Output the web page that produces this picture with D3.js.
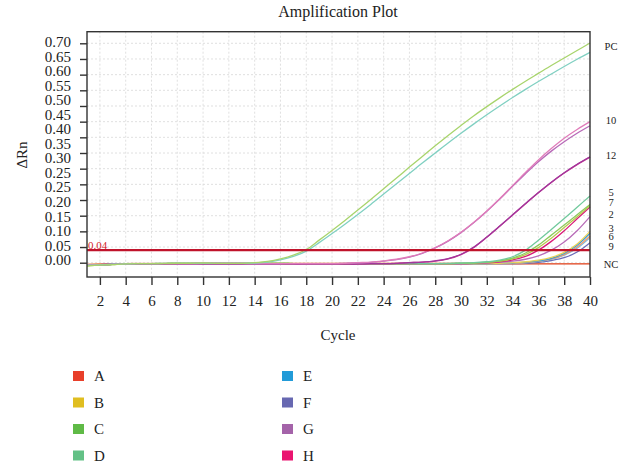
<!DOCTYPE html>
<html>
<head>
<meta charset="utf-8">
<script src="https://cdn.jsdelivr.net/npm/d3@7"></script>
<style>
  body { margin: 0; background: #fff; }
  text { font-family: "Liberation Serif", "Times New Roman", serif; fill: #222; }
</style>
</head>
<body>
<div class="chart"></div>
<script>
// cycles 1..40
var cycles = d3.range(1, 41);

// ΔRn per cycle
var pcC = [-0.010,-0.008,-0.006,-0.004,-0.003,-0.003,-0.002,-0.002,-0.002,-0.001,
           -0.002,-0.002,-0.002,0.000,0.004,0.012,0.024,0.042,0.072,0.103,
           0.135,0.168,0.202,0.236,0.270,0.305,0.339,0.373,0.406,0.438,
           0.469,0.498,0.526,0.553,0.579,0.604,0.629,0.653,0.677,0.701];
var pcD = [-0.008,-0.007,-0.005,-0.004,-0.003,-0.003,-0.002,-0.002,-0.002,-0.002,
           -0.002,-0.002,-0.002,-0.001,0.002,0.009,0.020,0.037,0.064,0.093,
           0.123,0.154,0.186,0.219,0.252,0.285,0.318,0.350,0.382,0.413,
           0.443,0.472,0.500,0.527,0.553,0.578,0.602,0.626,0.649,0.671];
var s10a = [-0.007,-0.006,-0.005,-0.004,-0.003,-0.003,-0.003,-0.003,-0.003,-0.002,
            -0.002,-0.002,-0.002,-0.003,-0.003,-0.003,-0.003,-0.003,-0.003,-0.003,
            -0.002,0.000,0.002,0.006,0.011,0.019,0.031,0.048,0.070,0.097,
            0.129,0.165,0.204,0.246,0.288,0.328,0.364,0.397,0.425,0.450];
var s10b = [-0.007,-0.006,-0.005,-0.004,-0.003,-0.003,-0.003,-0.003,-0.003,-0.002,
            -0.002,-0.002,-0.002,-0.003,-0.003,-0.003,-0.003,-0.003,-0.003,-0.003,
            -0.002,-0.001,0.001,0.005,0.010,0.018,0.030,0.047,0.069,0.096,
            0.128,0.164,0.203,0.244,0.284,0.322,0.356,0.386,0.413,0.437];
var s12a = [-0.007,-0.006,-0.005,-0.004,-0.003,-0.003,-0.003,-0.003,-0.003,-0.003,
            -0.003,-0.003,-0.003,-0.003,-0.003,-0.003,-0.004,-0.004,-0.004,-0.004,
            -0.004,-0.004,-0.003,-0.003,-0.002,0.000,0.002,0.006,0.013,0.027,
            0.050,0.082,0.117,0.153,0.189,0.224,0.257,0.287,0.314,0.338];
var s12b = [-0.007,-0.006,-0.005,-0.004,-0.003,-0.003,-0.003,-0.003,-0.003,-0.003,
            -0.003,-0.003,-0.003,-0.003,-0.003,-0.003,-0.004,-0.004,-0.004,-0.004,
            -0.004,-0.004,-0.003,-0.003,-0.002,0.000,0.002,0.005,0.012,0.026,
            0.049,0.081,0.116,0.152,0.188,0.223,0.256,0.286,0.313,0.337];
var s5 = [-0.008,-0.007,-0.005,-0.004,-0.003,-0.003,-0.003,-0.002,-0.002,-0.002,
          -0.002,-0.002,-0.002,-0.002,-0.002,-0.002,-0.003,-0.003,-0.003,-0.003,
          -0.003,-0.003,-0.003,-0.003,-0.003,-0.003,-0.003,-0.003,-0.002,-0.001,
          0.000,0.003,0.008,0.019,0.040,0.072,0.106,0.141,0.177,0.213];
var s7a = [-0.009,-0.007,-0.005,-0.004,-0.003,-0.003,-0.003,-0.002,-0.002,-0.002,
           -0.002,-0.002,-0.002,-0.002,-0.002,-0.002,-0.003,-0.003,-0.003,-0.003,
           -0.003,-0.003,-0.003,-0.003,-0.003,-0.003,-0.003,-0.003,-0.003,-0.002,
           -0.001,0.002,0.006,0.015,0.031,0.056,0.088,0.120,0.153,0.186];
var s7b = [-0.010,-0.008,-0.006,-0.004,-0.003,-0.003,-0.003,-0.002,-0.002,-0.002,
           -0.002,-0.002,-0.002,-0.002,-0.002,-0.002,-0.003,-0.003,-0.003,-0.003,
           -0.003,-0.003,-0.003,-0.003,-0.003,-0.003,-0.003,-0.003,-0.003,-0.002,
           -0.001,0.001,0.005,0.012,0.026,0.048,0.078,0.112,0.147,0.182];
var s2a = [-0.007,-0.006,-0.005,-0.004,-0.003,-0.003,-0.003,-0.003,-0.003,-0.003,
           -0.003,-0.003,-0.003,-0.003,-0.003,-0.003,-0.004,-0.004,-0.004,-0.004,
           -0.004,-0.004,-0.003,-0.003,-0.003,-0.003,-0.003,-0.003,-0.003,-0.003,
           -0.002,0.000,0.003,0.009,0.020,0.040,0.068,0.102,0.140,0.178];
var s2b = [-0.007,-0.006,-0.005,-0.004,-0.003,-0.003,-0.003,-0.003,-0.003,-0.003,
           -0.003,-0.003,-0.003,-0.003,-0.003,-0.003,-0.003,-0.003,-0.003,-0.003,
           -0.003,-0.003,-0.003,-0.003,-0.003,-0.003,-0.003,-0.003,-0.003,-0.003,
           -0.002,-0.001,0.002,0.005,0.011,0.022,0.040,0.066,0.102,0.147];
var s3 = [-0.009,-0.007,-0.005,-0.004,-0.003,-0.003,-0.003,-0.002,-0.002,-0.002,
          -0.002,-0.002,-0.002,-0.002,-0.002,-0.002,-0.003,-0.003,-0.003,-0.003,
          -0.003,-0.003,-0.003,-0.003,-0.003,-0.003,-0.003,-0.003,-0.003,-0.003,
          -0.003,-0.003,-0.002,0.000,0.003,0.008,0.017,0.033,0.060,0.100];
var s6a = [-0.007,-0.006,-0.005,-0.004,-0.003,-0.003,-0.003,-0.003,-0.003,-0.003,
           -0.003,-0.003,-0.003,-0.003,-0.003,-0.003,-0.003,-0.003,-0.003,-0.003,
           -0.003,-0.003,-0.003,-0.003,-0.003,-0.003,-0.003,-0.003,-0.003,-0.003,
           -0.003,-0.003,-0.002,-0.001,0.002,0.006,0.014,0.030,0.056,0.094];
var s6b = [-0.006,-0.005,-0.004,-0.003,-0.003,-0.003,-0.003,-0.002,-0.002,-0.002,
           -0.002,-0.002,-0.002,-0.002,-0.002,-0.002,-0.002,-0.002,-0.002,-0.002,
           -0.002,-0.002,-0.002,-0.002,-0.002,-0.002,-0.002,-0.002,-0.002,-0.002,
           -0.002,-0.002,-0.002,-0.002,0.000,0.005,0.012,0.026,0.050,0.085];
var s6c = [-0.007,-0.006,-0.005,-0.004,-0.003,-0.003,-0.003,-0.003,-0.003,-0.003,
           -0.003,-0.003,-0.003,-0.003,-0.003,-0.003,-0.003,-0.003,-0.003,-0.003,
           -0.003,-0.003,-0.003,-0.003,-0.003,-0.003,-0.003,-0.003,-0.003,-0.003,
           -0.003,-0.003,-0.003,-0.002,0.000,0.004,0.011,0.024,0.046,0.080];
var s9 = [-0.007,-0.006,-0.005,-0.004,-0.003,-0.003,-0.003,-0.003,-0.003,-0.003,
          -0.003,-0.003,-0.003,-0.003,-0.003,-0.003,-0.003,-0.003,-0.003,-0.003,
          -0.003,-0.003,-0.003,-0.003,-0.003,-0.003,-0.003,-0.003,-0.003,-0.003,
          -0.003,-0.003,-0.003,-0.003,-0.002,0.001,0.007,0.016,0.034,0.064];
var ncA = [-0.006,-0.005,-0.004,-0.003,-0.003,-0.003,-0.003,-0.003,-0.003,-0.003,
           -0.003,-0.003,-0.003,-0.003,-0.003,-0.003,-0.004,-0.004,-0.004,-0.004,
           -0.004,-0.004,-0.004,-0.004,-0.004,-0.004,-0.004,-0.004,-0.004,-0.004,
           -0.004,-0.004,-0.004,-0.004,-0.004,-0.004,-0.004,-0.004,-0.004,-0.004];
var ncB = [-0.005,-0.004,-0.003,-0.003,-0.002,-0.002,-0.002,-0.002,-0.002,-0.002,
           -0.002,-0.002,-0.002,-0.002,-0.002,-0.002,-0.002,-0.002,-0.002,-0.002,
           -0.002,-0.002,-0.002,-0.002,-0.002,-0.002,-0.002,-0.002,-0.002,-0.002,
           -0.003,-0.003,-0.003,-0.003,-0.003,-0.003,-0.003,-0.003,-0.003,-0.003];

var curveValues = [ncB, ncA, s9, s6c, s6b, s6a, s3, s2b, s2a, s7b, s7a, s5, s12b, s12a, s10b, s10a, pcD, pcC];
var curveColors = ['#eca783','#e4563a','#6b6cb8','#7bb7e0','#ee9c6a','#3a9ad8','#e9d25a','#b86cb8','#d91b78',
                   '#b9c74e','#8ccb5c','#70c99c','#c32f8d','#a2379d','#b86ab8','#e07cba','#80d0c2','#a8d46c'];

var threshold = 0.04;
var thresholdLabel = '0.04';

// end-of-curve tags and the ΔRn they sit at
var tagTexts  = ['PC','10','12','5','7','2','3','6','9','NC'];
var tagValues = [0.689, 0.455, 0.343, 0.224, 0.194, 0.154, 0.110, 0.083, 0.051, -0.004];

var xTickValues = d3.range(2, 41, 2);
var yTickValues = [0, 0.05, 0.10, 0.15, 0.20, 0.25, 0.30, 0.35, 0.40, 0.45, 0.50, 0.55, 0.60, 0.65, 0.70];
// labels as printed (0.25 appears twice)
var yTickLabels = ['0.70','0.65','0.60','0.55','0.50','0.45','0.40','0.35','0.30','0.25','0.25','0.20','0.15','0.10','0.05','0.00'];

var legendKeys   = ['A','B','C','D','E','F','G','H'];
var legendColors = ['#e83f2a','#e0be20','#5fba46','#63c186','#229bd8','#6768b1','#a463a9','#ea1470'];

var width = 627,
	height = 466,
	plotL = 87,
	plotR = 590,
	plotT = 31.7,
	plotB = 277;

var svg = d3.select('.chart').append('svg')
		.attr('width', width)
		.attr('height', height);

var x = d3.scaleLinear().domain([1, 40]).range([plotL, plotR]);
var y = d3.scaleLinear().domain([-0.0456, 0.737]).range([plotB, plotT]);

// grid
var grid = svg.append('g').attr('class', 'grid')
		.attr('stroke', '#d8d8d8')
		.attr('stroke-width', 0.8)
		.attr('stroke-dasharray', '2,2');
grid.selectAll('.vx').data(xTickValues.slice(0, -1)).enter().append('line')
	.attr('x1', x).attr('x2', x)
	.attr('y1', plotT).attr('y2', plotB);
grid.selectAll('.hy').data(yTickValues).enter().append('line')
	.attr('x1', plotL).attr('x2', plotR)
	.attr('y1', y).attr('y2', y);

// curves
var line = d3.line()
		.x(function(d, i) { return x(cycles[i]); })
		.y(function(d) { return y(d); })
		.curve(d3.curveCatmullRom.alpha(0.5));

svg.append('g').attr('class', 'curves')
	.selectAll('path')
	.data(curveValues)
	.enter().append('path')
	.attr('d', line)
	.attr('fill', 'none')
	.attr('stroke', function(d, i) { return curveColors[i]; })
	.attr('stroke-width', 1.3);

// threshold
svg.append('line')
	.attr('x1', plotL).attr('x2', plotR)
	.attr('y1', y(threshold)).attr('y2', y(threshold))
	.attr('stroke', '#c0132b')
	.attr('stroke-width', 2.4);
svg.append('text')
	.attr('x', plotL + 1)
	.attr('y', y(threshold) - 1.5)
	.style('font-size', '11px')
	.style('fill', '#d3222a')
	.text(thresholdLabel);

// frame
svg.append('rect')
	.attr('x', plotL).attr('y', plotT)
	.attr('width', plotR - plotL).attr('height', plotB - plotT)
	.attr('fill', 'none')
	.attr('stroke', '#333')
	.attr('stroke-width', 1.4);

// x axis
var xAxis = svg.append('g')
		.attr('transform', 'translate(0,' + plotB + ')')
		.call(d3.axisBottom(x).tickValues(xTickValues).tickSize(8).tickPadding(10));
xAxis.select('.domain').remove();
xAxis.selectAll('.tick line').attr('stroke', '#333').attr('stroke-width', 1.4);
xAxis.selectAll('.tick text')
	.style('font-family', '"Liberation Serif", serif')
	.style('font-size', '15px')
	.style('fill', '#222');

// y axis ticks
var yAxis = svg.append('g')
		.attr('transform', 'translate(' + plotL + ',0)')
		.call(d3.axisLeft(y).tickValues(yTickValues).tickSize(7).tickFormat(''));
yAxis.select('.domain').remove();
yAxis.selectAll('.tick line').attr('stroke', '#333').attr('stroke-width', 1.4);

// y labels, spread evenly as in the original
var yLabelPos = d3.scaleLinear().domain([0, yTickLabels.length - 1]).range([y(0.70) - 1.6, y(0) - 2.7]);
svg.append('g').selectAll('text')
	.data(yTickLabels)
	.enter().append('text')
	.attr('x', 71)
	.attr('y', function(d, i) { return yLabelPos(i); })
	.attr('dy', '0.35em')
	.attr('text-anchor', 'end')
	.style('font-size', '15px')
	.text(function(d) { return d; });

// curve tags
svg.append('g').selectAll('text')
	.data(tagTexts)
	.enter().append('text')
	.attr('x', 611)
	.attr('y', function(d, i) { return y(tagValues[i]); })
	.attr('dy', '0.35em')
	.attr('text-anchor', 'middle')
	.style('font-size', '10.5px')
	.text(function(d) { return d; });

// titles
svg.append('text')
	.attr('x', 338).attr('y', 17)
	.attr('text-anchor', 'middle')
	.style('font-size', '16px')
	.text('Amplification Plot');
svg.append('text')
	.attr('x', 338).attr('y', 340)
	.attr('text-anchor', 'middle')
	.style('font-size', '15px')
	.text('Cycle');
svg.append('text')
	.attr('transform', 'translate(27,155) rotate(-90)')
	.attr('text-anchor', 'middle')
	.style('font-size', '15px')
	.text('ΔRn');

// legend
var legend = svg.append('g').attr('class', 'legend')
		.selectAll('g')
		.data(legendKeys)
		.enter().append('g')
		.attr('transform', function(d, i) {
			var col = Math.floor(i / 4), row = i % 4;
			return 'translate(' + (73 + col * 209) + ',' + (376 + row * 26.5) + ')';
		});
legend.append('rect')
	.attr('x', 0).attr('y', -5)
	.attr('width', 11).attr('height', 10)
	.attr('fill', function(d, i) { return legendColors[i]; });
legend.append('text')
	.attr('x', 21).attr('y', 0)
	.attr('dy', '0.35em')
	.style('font-size', '15px')
	.text(function(d) { return d; });
</script>
</body>
</html>
